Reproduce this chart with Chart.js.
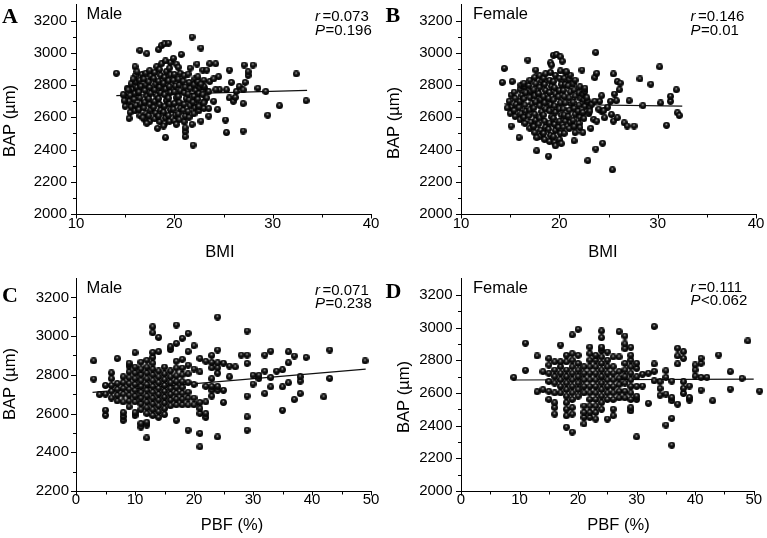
<!DOCTYPE html>
<html><head><meta charset="utf-8">
<script src="https://cdn.jsdelivr.net/npm/chart.js@4.4.1/dist/chart.umd.min.js"></script>
<style>
html,body{margin:0;padding:0;background:#fff;width:767px;height:538px;overflow:hidden}
.p{position:absolute}
</style></head><body>
<div class="p" id="wA" style="left:0;top:0;width:384px;height:260px"><canvas id="cA"></canvas></div>
<div class="p" id="wB" style="left:384px;top:0;width:383px;height:260px"><canvas id="cB"></canvas></div>
<div class="p" id="wC" style="left:0;top:260px;width:384px;height:278px"><canvas id="cC"></canvas></div>
<div class="p" id="wD" style="left:384px;top:260px;width:383px;height:278px"><canvas id="cD"></canvas></div>
<script>
// ---------- DATA ----------
const panelLetters = ['A','B','C','D'];
const groups = ['Male','Female','Male','Female'];
const rVals = ['=0.073','=0.146','=0.071','=0.111'];
const pVals = ['=0.196','=0.01','=0.238','<0.062'];
const xTitles = ['BMI','BMI','PBF (%)','PBF (%)'];
const yTitle = 'BAP (\u00b5m)';
const bmiTickLabels = [10,20,30,40];
const pbfTickLabels = [0,10,20,30,40,50];
const bapTickLabels = [2000,2200,2400,2600,2800,3000,3200];
const bapTickLabelsC = [2200,2400,2600,2800,3000,3200];

// Panel A: male, BMI vs BAP
const bmiMale = [
[15.0,2668],[15.1,2705],[14.9,2738],[15.2,2778],
[15.5,2630],[15.6,2665],[15.4,2700],[15.5,2735],[15.7,2772],[15.6,2808],
[16.0,2640],[16.1,2675],[15.9,2712],[16.0,2748],[16.2,2785],[16.1,2820],[16.0,2856],
[16.5,2610],[16.4,2648],[16.6,2684],[16.5,2720],[16.4,2757],[16.6,2793],[16.5,2830],[16.7,2866],
[17.0,2585],[17.1,2622],[16.9,2658],[17.0,2694],[17.2,2730],[17.0,2766],[17.1,2802],[16.9,2838],[17.1,2874],
[17.5,2575],[17.4,2610],[17.6,2645],[17.5,2680],[17.4,2715],[17.6,2750],[17.5,2785],[17.4,2820],[17.6,2856],[17.5,2890],
[18.0,2590],[18.1,2626],[17.9,2662],[18.0,2698],[18.2,2734],[18.0,2770],[18.1,2806],[17.9,2842],[18.0,2878],[18.2,2914],
[18.5,2572],[18.4,2608],[18.6,2644],[18.5,2680],[18.4,2716],[18.6,2752],[18.5,2788],[18.4,2824],[18.6,2860],[18.5,2896],[18.7,2932],
[19.0,2560],[19.1,2596],[18.9,2632],[19.0,2668],[19.2,2704],[19.0,2740],[19.1,2776],[18.9,2812],[19.0,2848],[19.2,2884],
[19.5,2575],[19.4,2611],[19.6,2647],[19.5,2683],[19.4,2719],[19.6,2755],[19.5,2791],[19.4,2827],[19.6,2863],[19.5,2905],[19.6,2940],
[20.0,2578],[20.1,2614],[19.9,2650],[20.0,2686],[20.2,2722],[20.0,2758],[20.1,2794],[19.9,2830],[20.0,2866],[20.2,2930],
[20.5,2585],[20.4,2621],[20.6,2657],[20.5,2693],[20.4,2729],[20.6,2765],[20.5,2801],[20.4,2837],[20.6,2873],[20.4,2910],
[21.0,2572],[21.1,2608],[20.9,2644],[21.0,2680],[21.2,2716],[21.0,2752],[21.1,2788],[20.9,2824],[21.0,2858],
[21.5,2600],[21.4,2636],[21.6,2672],[21.5,2708],[21.4,2744],[21.6,2780],[21.5,2816],[21.4,2868],[21.6,2905],
[22.0,2622],[22.1,2658],[21.9,2694],[22.0,2730],[22.2,2766],[22.0,2802],[22.1,2838],
[22.5,2640],[22.6,2676],[22.4,2712],[22.5,2748],[22.6,2784],[22.4,2820],[22.4,2852],
[23.0,2655],[23.1,2700],[22.9,2740],[23.1,2780],[23.0,2830],
[14.1,2873],[14.8,2740],[14.9,2703],[15.3,2770],[15.4,2593],[15.8,2838],[16.0,2914],[16.2,2883],[16.5,3015],[16.8,2597],
[17.2,2995],[17.2,2562],[18.3,2531],[18.4,3020],[18.7,3045],[18.9,2546],[19.0,3055],[19.1,2474],[19.1,2950],[19.4,3060],
[19.9,2965],[20.2,2556],[20.7,2990],[21.1,2480],[21.1,2511],[21.1,2535],[21.8,3098],[21.8,2556],[21.9,2427],[22.3,2930],
[22.7,3030],[22.7,2576],[22.9,2893],[23.3,2893],[23.5,2607],[23.5,2654],[23.6,2932],[24.2,2932],[24.5,2852],[24.6,2771],
[25.2,2583],[25.3,2505],[25.3,2771],[25.6,2720],[25.6,2893],[25.8,2816],[26.0,2699],[26.3,2760],[26.6,2791],[27.0,2515],
[27.0,2685],[27.0,2770],[27.1,2924],[27.2,2816],[27.5,2860],[27.5,2883],[28.0,2924],[28.5,2780],[29.3,2760],[29.5,2613],
[30.7,2672],[32.4,2869],[33.4,2703],
[24.0,2699],[23.3,2720],[23.5,2760],[24.2,2771],[23.0,2791],[23.6,2822],[24.0,2838],[22.7,2805],[24.4,2648],[26.2,2723],[22.5,2668],[23.0,2689]
];
const fitA = [[14.1,2734],[33.5,2767]];

// Panel B: female, BMI vs BAP
const bmiFemale = [
[15.0,2625],[15.1,2662],[14.9,2700],[15.1,2738],
[15.5,2605],[15.4,2642],[15.6,2680],[15.5,2718],[15.4,2756],
[16.0,2585],[16.1,2622],[15.9,2660],[16.0,2698],[16.2,2736],[16.0,2774],[16.1,2800],
[16.5,2562],[16.4,2600],[16.6,2638],[16.5,2676],[16.4,2714],[16.6,2752],[16.5,2790],[16.4,2812],
[17.0,2532],[17.1,2570],[16.9,2608],[17.0,2646],[17.2,2684],[17.0,2722],[17.1,2760],[16.9,2798],[17.0,2830],
[17.5,2505],[17.4,2543],[17.6,2581],[17.5,2619],[17.4,2657],[17.6,2695],[17.5,2733],[17.4,2771],[17.6,2809],[17.5,2847],
[18.0,2482],[18.1,2520],[17.9,2558],[18.0,2596],[18.2,2634],[18.0,2672],[18.1,2710],[17.9,2748],[18.0,2786],[18.2,2824],[18.0,2858],
[18.5,2462],[18.4,2500],[18.6,2538],[18.5,2576],[18.4,2614],[18.6,2652],[18.5,2690],[18.4,2728],[18.6,2766],[18.5,2804],[18.4,2842],[18.6,2870],
[19.0,2450],[19.1,2488],[18.9,2526],[19.0,2564],[19.2,2602],[19.0,2640],[19.1,2678],[18.9,2716],[19.0,2754],[19.2,2792],[19.0,2830],[19.1,2878],
[19.5,2442],[19.4,2480],[19.6,2518],[19.5,2556],[19.4,2594],[19.6,2632],[19.5,2670],[19.4,2708],[19.6,2746],[19.5,2784],[19.4,2822],[19.6,2860],
[20.0,2462],[20.1,2500],[19.9,2538],[20.0,2576],[20.2,2614],[20.0,2652],[20.1,2690],[19.9,2728],[20.0,2766],[20.2,2804],[20.0,2842],[20.1,2888],
[20.5,2500],[20.4,2538],[20.6,2576],[20.5,2614],[20.4,2652],[20.6,2690],[20.5,2728],[20.4,2766],[20.6,2804],[20.5,2842],[20.6,2880],
[21.0,2530],[21.1,2568],[20.9,2606],[21.0,2644],[21.2,2682],[21.0,2720],[21.1,2758],[20.9,2796],[21.0,2834],[21.1,2862],
[21.5,2542],[21.4,2580],[21.6,2618],[21.5,2656],[21.4,2694],[21.6,2732],[21.5,2770],[21.4,2808],[21.6,2830],
[22.0,2562],[22.1,2600],[21.9,2638],[22.0,2676],[22.2,2714],[22.0,2752],[22.1,2790],
[22.5,2592],[22.4,2630],[22.6,2668],[22.5,2706],[22.4,2744],[22.6,2760],
[23.0,2622],[23.1,2662],[22.9,2700],
[14.2,2816],[14.4,2903],[14.7,2658],[15.1,2546],[15.2,2822],[15.9,2474],[16.8,2955],[17.6,2893],[17.7,2392],[17.7,2474],
[18.9,2358],[19.1,2938],[19.2,2924],[19.4,2985],[19.6,2423],[19.7,2989],[20.1,2975],[20.2,2437],[20.3,2948],[20.7,2883],
[22.3,2893],[22.9,2331],[23.1,2638],[23.2,2531],[23.5,2587],[23.6,2846],[23.7,2403],[23.7,3002],[23.8,2576],[23.8,2873],
[24.1,2699],[24.3,2734],[24.3,2638],[24.4,2439],[24.6,2597],[24.9,2662],[25.2,2699],[25.3,2617],[25.4,2274],[25.5,2576],
[25.5,2869],[25.6,2744],[25.8,2703],[25.9,2597],[25.9,2822],[26.1,2771],[26.2,2812],[26.6,2566],[26.9,2546],[27.1,2703],
[27.6,2546],[28.2,2838],[28.5,2672],[29.3,2805],[30.2,2913],[30.3,2689],[30.9,2550],[31.3,2699],[31.3,2730],[31.9,2771],
[32.0,2628],[32.2,2611],
[22.6,2781],[22.8,2722],[23.3,2680],[23.6,2700],[24.0,2650],[24.5,2640],[21.5,2454],[21.6,2505],[22.1,2536],[22.4,2505]
];
const fitB = [[14.4,2684],[32.5,2670]];

// Panel C: male, PBF vs BAP  (PBF value, list of BAP values)
const pbfMale = [
[3,[2778,2872]],[4,[2698]],[5,[2591,2617,2700,2745]],[6,[2680,2715,2745,2780,2810]],
[7,[2665,2695,2725,2755,2884]],[8,[2565,2585,2605,2660,2700,2730,2760,2790]],
[9,[2635,2665,2695,2725,2755,2785,2815,2845,2860]],[10,[2590,2605,2660,2690,2720,2750,2780,2810,2840,2914]],
[11,[2530,2548,2620,2650,2680,2710,2740,2770,2800,2830,2865]],
[12,[2474,2540,2555,2600,2630,2660,2690,2720,2750,2780,2810,2840,2875]],
[13,[2590,2620,2650,2680,2710,2740,2770,2800,2830,2860,2890,2915,3017,3048]],
[14,[2580,2610,2640,2670,2700,2730,2760,2790,2820,2920,2993]],
[15,[2595,2625,2655,2685,2715,2745,2775,2805,2840]],[16,[2640,2670,2700,2730,2760,2790,2820,2930,2945]],
[17,[2565,2645,2675,2705,2735,2765,2795,2835,2870,2962,3057]],[18,[2645,2675,2705,2735,2765,2800,2835,2880,2988]],
[19,[2514,2645,2680,2710,2760,2805,2850,2920,3014]],[20,[2645,2680,2750,2830,2950]],
[21,[2428,2497,2600,2626,2657,2815,2884]],[22,[2580,2600,2660,2740,2870]],[23,[2690,2720,2740,2780,2836,2864,2900]],
[24,[2479,2720,2740,2808,2836,2862,2928,3098]],[25,[2657,2720,2860]],[26,[2790,2845]],[27,[2841]],[28,[2902]],
[29,[2514,2583,2690,2859,2902,3026]],[30,[2752,2798]],[31,[2781,2798]],[32,[2703,2819,2902]],[33,[2738,2786,2922]],
[34,[2819]],[35,[2617,2738,2826]],[36,[2759,2862,2919]],[37,[2672,2897]],[38,[2703,2767,2790]],[39,[2890]],
[42,[2686]],[43,[2781,2928]],[49,[2872]]
];
const fitC = [[2.8,2709],[49.1,2829]];

// Panel D: female, PBF vs BAP (the subject at PBF 51 lies past the axis end)
const pbfFemale = [
[9,[2695]],[11,[2738,2904]],[13,[2607,2826]],[14,[2620,2730]],
[15,[2560,2610,2670,2720,2770,2810]],[16,[2470,2510,2540,2600,2660,2700,2740,2790]],
[17,[2600,2640,2680,2720,2760,2790,2893]],[18,[2390,2460,2500,2540,2580,2620,2660,2700,2740,2790,2830]],
[19,[2360,2470,2510,2560,2600,2640,2680,2720,2760,2800,2840,2955]],[20,[2580,2620,2660,2700,2740,2780,2830,2989]],
[21,[2410,2450,2480,2520,2600,2640,2680,2720,2760]],[22,[2450,2480,2520,2560,2600,2640,2680,2720,2760,2800,2840,2880]],
[23,[2440,2480,2520,2560,2600,2640,2680,2720,2760,2800,2830]],
[24,[2500,2540,2580,2620,2660,2700,2740,2780,2820,2860,2880,2938,2979]],
[25,[2440,2560,2600,2640,2680,2720,2760,2800,2850]],[26,[2460,2500,2560,2600,2640,2680,2720,2760,2820]],
[27,[2570,2610,2650,2690,2730,2820,2975]],[28,[2570,2610,2660,2700,2740,2780,2870,2900,2948]],
[29,[2490,2510,2560,2600,2640,2680,2720,2760,2800,2830,2879]],[30,[2331,2560,2580,2640,2699,2750,2781]],
[31,[2642,2714]],[32,[2536,2720]],[33,[2674,2732,2777,3006]],[34,[2585,2627,2668]],[35,[2403,2593,2695,2736]],
[36,[2280,2444,2552,2572,2672]],[37,[2531,2777,2826,2873]],[38,[2597,2628,2668,2811,2852]],[39,[2556,2572,2642]],
[40,[2703,2740,2771]],[41,[2617,2695,2781,2812]],[42,[2695]],[43,[2552]],[44,[2832]],[46,[2623,2730]],
[48,[2689]],[49,[2918]],[51,[2611]]
];
const fitD = [[8.9,2679],[50,2685]];

// ---------- RENDERING ----------
const FONT = '"Liberation Sans", Arial, sans-serif';
function sphere(d){
  const c=document.createElement('canvas');c.width=c.height=d;
  const g=c.getContext('2d');const r=d/2;
  const gr=g.createRadialGradient(r*0.9,r*0.62,0.1,r,r,r);
  gr.addColorStop(0,'#e6e6e6');gr.addColorStop(0.18,'#5a5a5a');gr.addColorStop(0.45,'#141414');gr.addColorStop(1,'#000');
  g.fillStyle=gr;g.beginPath();g.arc(r,r,r-0.05,0,Math.PI*2);g.fill();
  return c;
}
const ball = sphere(7);
const pairs = a => a.map(p=>({x:p[0],y:p[1]}));
const cols = a => a.flatMap(c=>c[1].map(v=>({x:c[0],y:v})));

const deco = {
  id:'deco',
  afterDraw(chart, args, o){
    const ctx=chart.ctx, xs=chart.scales.x, ys=chart.scales.y, ca=chart.chartArea;
    ctx.save();
    ctx.strokeStyle='#000';ctx.lineWidth=1;
    // x axis line (ends at the last labelled value)
    const by=Math.round(ca.bottom)+0.5;
    ctx.beginPath();ctx.moveTo(Math.round(ca.left),by);ctx.lineTo(Math.round(xs.getPixelForValue(o.axisMax))+1,by);ctx.stroke();
    ys.ticks.forEach(t=>{
      if(t.value>=ys.max) return;
      const major=(t.value%200===0);
      const py=Math.round(ys.getPixelForValue(t.value))+0.5;
      const len=major?5:3;
      ctx.beginPath();ctx.moveTo(ca.left-len,py);ctx.lineTo(ca.left,py);ctx.stroke();
    });
    xs.ticks.forEach(t=>{
      if(t.value>o.axisMax || t.value%5!==0) return;
      const major=(t.value%10===0);
      const px=Math.round(xs.getPixelForValue(t.value))+0.5;
      const len=major?4:3;
      ctx.beginPath();ctx.moveTo(px,by);ctx.lineTo(px,by+len);ctx.stroke();
    });
    ctx.fillStyle='#000';ctx.textAlign='left';ctx.textBaseline='alphabetic';
    ctx.font='bold 22px "Liberation Serif", "Times New Roman", serif';
    ctx.fillText(o.letter,o.lx,o.ly);
    ctx.font='16.5px '+FONT;
    ctx.fillText(o.group,o.gx,o.gy);
    ctx.font='italic 15px '+FONT; ctx.fillText('r',o.sx,o.ry);
    let w=ctx.measureText('r').width;
    ctx.font='15px '+FONT; ctx.fillText(o.r,o.sx+w+2.5,o.ry);
    ctx.font='italic 15px '+FONT; ctx.fillText('P',o.sx,o.py);
    w=ctx.measureText('P').width;
    ctx.font='15px '+FONT; ctx.fillText(o.p,o.sx+w+0.5,o.py);
    ctx.font='16.5px '+FONT; ctx.textAlign='center';
    ctx.fillText(o.xt,o.xtx,o.xty);
    ctx.translate(o.ytx,o.yty);ctx.rotate(-Math.PI/2);ctx.textBaseline='middle';
    ctx.fillText(o.yt,0,0);
    ctx.restore();
  }
};

function panel(id, pts, fit, xr, axisMax, yr, xLabels, yLabels, box, tp, txt){
  const W=box.W,H=box.H;
  txt.axisMax=axisMax;
  return new Chart(document.getElementById(id),{
    type:'scatter',
    data:{datasets:[
      {data:pts,pointStyle:ball,pointRadius:3.5,pointHoverRadius:3.5,clip:false},
      {data:pairs(fit),showLine:true,borderColor:'#111',borderWidth:1.2,pointRadius:0,pointHoverRadius:0,fill:false}
    ]},
    options:{
      responsive:true,maintainAspectRatio:false,animation:false,
      events:[],
      layout:{padding:{left:0,top:box.t,right:W-box.r,bottom:0}},
      plugins:{legend:{display:false},tooltip:{enabled:false},deco:txt},
      scales:{
        x:{type:'linear',min:xr[0],max:xr[1],
          grid:{display:false,drawTicks:false},
          border:{display:false},
          ticks:{stepSize:5,includeBounds:false,autoSkip:false,maxRotation:0,padding:tp.x,color:'#000',font:{family:FONT,size:15},
            callback:v=>xLabels.includes(v)?String(v):''},
          afterFit:s=>{s.height=H-box.b;s.paddingLeft=0;s.paddingRight=0;}
        },
        y:{type:'linear',min:yr[0],max:yr[1],
          grid:{display:false,drawTicks:false},
          border:{display:true,color:'#000',width:1},
          ticks:{stepSize:100,autoSkip:false,padding:tp.y,color:'#000',font:{family:FONT,size:15},
            callback:v=>yLabels.includes(v)?String(v):''},
          afterFit:s=>{s.width=box.l;s.paddingTop=0;s.paddingBottom=0;}
        }
      }
    },
    plugins:[deco]
  });
}

panel('cA', pairs(bmiMale), fitA, [10,40], 40, [2000,3300], bmiTickLabels, bapTickLabels,
  {W:384,H:260,l:76,r:371,t:2,b:214}, {x:1,y:9},
  {letter:panelLetters[0],lx:2,ly:22.5,group:groups[0],gx:86.5,gy:18.5,sx:315,r:rVals[0],ry:20.5,p:pVals[0],py:35,
   xt:xTitles[0],xtx:220,xty:257,yt:yTitle,ytx:10,yty:121});
panel('cB', pairs(bmiFemale), fitB, [10,40], 40, [2000,3300], bmiTickLabels, bapTickLabels,
  {W:383,H:260,l:77,r:372,t:2,b:214}, {x:1,y:8.5},
  {letter:panelLetters[1],lx:1.5,ly:22,group:groups[1],gx:89,gy:19,sx:306.5,r:rVals[1],ry:20.5,p:pVals[1],py:35,
   xt:xTitles[1],xtx:219,xty:257,yt:yTitle,ytx:10,yty:123});
panel('cC', cols(pbfMale), fitC, [0,50], 50, [2200,3300], pbfTickLabels, bapTickLabelsC,
  {W:384,H:278,l:76,r:371,t:18,b:231}, {x:0,y:7},
  {letter:panelLetters[2],lx:2,ly:41.5,group:groups[2],gx:86.5,gy:33.3,sx:315,r:rVals[2],ry:35,p:pVals[2],py:48.3,
   xt:xTitles[2],xtx:232,xty:270,yt:yTitle,ytx:10,yty:124});
// D: the scale runs a little past 50 so the subject at 51 is drawn; the axis line stops at 50
panel('cD', cols(pbfFemale), fitD, [0,51.5], 50, [2000,3300], pbfTickLabels, bapTickLabels,
  {W:383,H:278,l:77,r:380.85,t:18.5,b:231}, {x:0,y:8.5},
  {letter:panelLetters[3],lx:1.5,ly:38.3,group:groups[3],gx:89,gy:33.3,sx:306.5,r:rVals[3],ry:31.7,p:pVals[3],py:45,
   xt:xTitles[3],xtx:234.5,xty:270,yt:yTitle,ytx:20,yty:137});
</script>
</body></html>
